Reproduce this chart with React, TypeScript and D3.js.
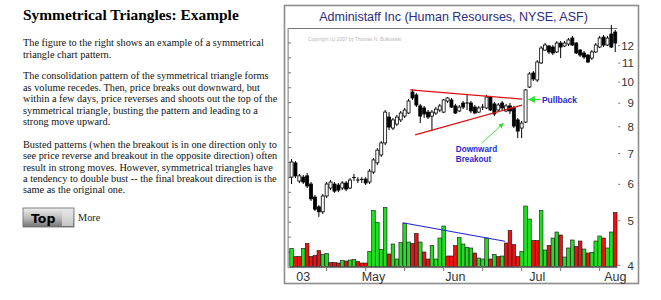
import React from 'react'
import * as d3 from 'd3'

// daily prices, one entry per trading day (Mar 28 - Aug 1 2003)
const opens = [6.22, 6.68, 6.10, 6.22, 6.26, 6.01, 5.63, 5.36, 5.23, 5.66,
    5.89, 6.01, 5.98, 5.89, 6.04, 5.89, 6.19, 6.13, 6.13, 6.16,
    6.07, 6.38, 6.68, 6.95, 7.38, 8.40, 7.95, 8.11, 8.28, 8.44,
    8.57, 9.52, 9.38, 8.88, 8.79, 8.61, 8.44, 8.57, 8.70, 8.61,
    9.10, 9.15, 8.88, 8.66, 9.01, 9.01, 9.01, 8.83, 8.61, 8.79,
    8.79, 9.28, 8.97, 8.70, 9.01, 8.66, 8.88, 8.79, 8.28, 7.95,
    8.19, 9.76, 10.47, 10.11, 11.01, 11.74, 11.98, 11.92, 11.63, 12.16,
    11.98, 12.10, 12.47, 12.16, 11.74, 11.57, 11.45, 11.28, 11.63, 11.92,
    12.53, 12.04, 12.72, 12.85]
const highs = [6.81, 6.74, 6.32, 6.29, 6.35, 6.07, 5.69, 5.41, 5.72, 6.07,
    6.13, 6.07, 6.04, 6.10, 6.10, 6.19, 6.32, 6.22, 6.22, 6.22,
    6.48, 6.84, 7.19, 7.45, 8.70, 8.61, 8.36, 8.49, 8.66, 8.79,
    9.19, 9.66, 9.47, 8.97, 8.88, 8.70, 8.70, 8.83, 8.97, 9.19,
    9.28, 9.24, 8.97, 8.92, 9.10, 9.38, 9.10, 8.92, 8.88, 8.97,
    9.38, 9.33, 9.06, 9.01, 9.10, 8.97, 9.01, 8.88, 8.36, 8.24,
    9.66, 10.52, 10.57, 11.17, 11.98, 12.16, 12.04, 12.04, 12.28, 12.28,
    12.28, 12.47, 12.60, 12.22, 11.80, 11.69, 11.51, 11.74, 12.16, 12.60,
    12.66, 12.60, 13.31, 12.98]
const lows = [6.01, 6.19, 6.04, 6.01, 5.89, 5.52, 5.25, 5.10, 5.17, 5.60,
    5.83, 5.75, 5.77, 5.83, 5.80, 5.86, 6.10, 6.04, 6.04, 5.98,
    6.01, 6.32, 6.61, 6.88, 7.30, 7.87, 7.87, 8.03, 8.19, 8.36,
    8.53, 9.15, 8.83, 8.15, 8.36, 8.32, 7.83, 8.49, 8.61, 8.57,
    9.01, 8.79, 8.53, 8.61, 8.74, 8.70, 8.57, 8.53, 8.57, 8.70,
    8.74, 8.66, 8.44, 8.66, 8.70, 8.61, 8.53, 7.95, 7.56, 7.56,
    8.15, 9.71, 10.06, 10.01, 10.95, 11.69, 11.51, 11.45, 11.57, 11.28,
    11.92, 11.98, 11.98, 11.51, 11.34, 11.23, 11.01, 11.17, 11.57, 11.86,
    11.92, 11.98, 11.86, 11.63]
const closes = [6.71, 6.26, 6.26, 6.07, 5.95, 5.58, 5.30, 5.23, 5.66, 6.01,
    6.07, 5.80, 5.83, 6.04, 5.86, 6.13, 6.21, 6.12, 6.15, 6.04,
    6.41, 6.78, 7.12, 7.38, 8.61, 7.99, 8.28, 8.40, 8.57, 8.70,
    9.10, 9.24, 8.92, 8.44, 8.53, 8.40, 8.61, 8.74, 8.88, 9.15,
    9.24, 8.83, 8.57, 8.83, 8.83, 8.99, 8.66, 8.57, 8.79, 8.83,
    9.28, 8.70, 8.53, 8.92, 8.79, 8.88, 8.66, 8.03, 7.83, 8.15,
    9.62, 10.42, 10.16, 11.06, 11.86, 12.04, 11.63, 11.57, 12.16, 11.92,
    12.16, 12.35, 12.04, 11.57, 11.45, 11.34, 11.06, 11.63, 12.04, 12.47,
    12.04, 12.47, 11.92, 12.16]

// volume in thousands of shares, 1 = green bar, 0 = red bar
const volumes = [180, 100, 100, 180, 230, 100, 110, 160, 120, 130,
    40, 40, 35, 60, 55, 65, 70, 50, 35, 35,
    150, 560, 440, 170, 590, 125, 225, 75, 240, 430,
    245, 230, 330, 245, 145, 75, 210, 75, 285, 405,
    105, 105, 210, 290, 225, 190, 185, 135, 85, 75,
    285, 75, 120, 100, 105, 235, 360, 220, 100, 150,
    605, 475, 260, 260, 560, 165, 210, 285, 345, 315,
    95, 185, 265, 200, 255, 175, 135, 140, 255, 305,
    285, 185, 345, 540]
const volumeUp = [1, 0, 0, 1, 0, 0, 0, 0, 1, 1,
    0, 0, 0, 1, 0, 1, 1, 0, 0, 0,
    1, 1, 1, 1, 1, 0, 1, 1, 1, 1,
    1, 0, 0, 1, 0, 0, 1, 1, 1, 1,
    0, 0, 0, 1, 1, 1, 1, 0, 1, 1,
    1, 0, 1, 0, 1, 0, 0, 0, 0, 1,
    1, 1, 0, 0, 1, 1, 0, 1, 1, 0,
    1, 1, 1, 0, 0, 1, 0, 1, 1, 1,
    0, 1, 1, 0]

const priceTicks = [4, 5, 6, 7, 8, 9, 10, 11, 12]
const monthLabels = ['03', 'May', 'Jun', 'Jul', 'Aug']
const monthBars = [3, 21, 42, 63, 83]
const dayTicks = [9, 19, 29, 39, 49, 59, 69, 79]

// trend lines: [bar, price] and [bar, volume]
const upperLine = [[30.4, 9.62], [59.1, 9.19]]
const lowerLine = [[31.7, 7.68], [59.1, 8.92]]
const volumeLine = [[28.5, 437], [54.7, 253]]

const introLines = [
    'The figure to the right shows an example of a symmetrical',
    'triangle chart pattern.',
]
const consolidationLines = [
    'The consolidation pattern of the symmetrical triangle forms',
    'as volume recedes. Then, price breaks out downward, but',
    'within a few days, price reverses and shoots out the top of the',
    'symmetrical triangle, busting the pattern and leading to a',
    'strong move upward.',
]
const bustedLines = [
    'Busted patterns (when the breakout is in one direction only to',
    'see price reverse and breakout in the opposite direction) often',
    'result in strong moves. However, symmetrical triangles have',
    'a tendency to double bust -- the final breakout direction is the',
    'same as the original one.',
]

const SERIF = "'Liberation Serif', 'Times New Roman', serif"
const SANS = "'Liberation Sans', Arial, sans-serif"
const GREEN = '#22dd22'
const RED = '#ee1111'

const plot = { left: 289.6, right: 617.2, top: 28, bottom: 267 }

const Paragraph = ({ lines, top, step }) => (
    <g>
        {lines.map((t, i) => (
            <text key={i} x={23} y={top + i * step} fontFamily={SERIF} fontSize={10.3} fill='#111'>
                {t}
            </text>
        ))}
    </g>
)

const App = () => {
    const n = closes.length
    const x = d3.scaleLinear().domain([-0.5, n - 0.5]).range([plot.left, plot.right])
    const y = d3.scaleLog().domain([3.969, 13.11]).range([plot.bottom, plot.top])
    const v = d3.scaleLinear().domain([0, 600]).range([plot.bottom - 0.5, plot.bottom - 60.5])
    const leftTick = d3.scaleLinear().domain([0, 16]).range([plot.bottom, plot.top])
    const line = d3.line()

    return (
        <svg width={661} height={300} style={{ position: 'absolute', left: 0, top: 0, background: '#fff' }}>
            <defs>
                <linearGradient id='btn' x1='0' y1='0' x2='0' y2='1'>
                    <stop offset='0' stopColor='#eeeeee' />
                    <stop offset='0.5' stopColor='#bdbdbd' />
                    <stop offset='1' stopColor='#737373' />
                </linearGradient>
                <marker id='head' viewBox='0 0 10 10' refX='9' refY='5' markerWidth='6' markerHeight='6' orient='auto'>
                    <path d='M0,0 L10,5 L0,10 z' fill='#33dd33' />
                </marker>
            </defs>

            {/* left text column */}
            <text x={23} y={20} fontFamily={SERIF} fontSize={15.4} fontWeight='bold' fill='#000'>
                Symmetrical Triangles: Example
            </text>
            <Paragraph lines={introLines} top={46} step={11.5} />
            <Paragraph lines={consolidationLines} top={79.4} step={11.4} />
            <Paragraph lines={bustedLines} top={148.4} step={11.05} />
            <rect x={23} y={208} width={51} height={19} fill='url(#btn)' stroke='#666' strokeWidth={0.8} />
            <rect x={62} y={209} width={11} height={17} fill='#e4e4e4' opacity={0.7} />
            <text x={31} y={222.5} fontFamily="'DejaVu Sans', Verdana, sans-serif" fontSize={12.5} fontWeight='bold' fill='#000'>
                Top
            </text>
            <text x={78} y={221} fontFamily={SERIF} fontSize={10.3} fill='#222'>More</text>

            {/* chart frame */}
            <rect x={284.5} y={5.5} width={354} height={278} fill='#fff' stroke='#8c8c8c' strokeWidth={1.6} />
            <text x={453.5} y={21} textAnchor='middle' fontFamily={SANS} fontSize={12.5} fill='#2b2b80'>
                Administaff Inc (Human Resourses, NYSE, ASF)
            </text>
            <text x={308} y={41} fontFamily={SANS} fontSize={4.8} fill='#b8b8b8'>
                Copyright (c) 2007 by Thomas N. Bulkowski
            </text>

            {/* axes */}
            <line x1={plot.left - 1} x2={plot.right} y1={plot.top + 0.5} y2={plot.top + 0.5} stroke='#777' />
            <line x1={plot.left - 1} x2={plot.right} y1={plot.bottom + 0.5} y2={plot.bottom + 0.5} stroke='#777' />
            <line x1={plot.left - 1.5} x2={plot.left - 1.5} y1={plot.top} y2={plot.bottom + 1} stroke='#777' />
            {d3.range(1, 16).map(k => (
                <line key={k} x1={plot.left - 1.5} x2={plot.left + 1.5} y1={leftTick(k)} y2={leftTick(k)} stroke='#777' />
            ))}
            {dayTicks.map(d => (
                <line key={d} x1={x(d)} x2={x(d)} y1={plot.bottom + 1} y2={plot.bottom + 4} stroke='#777' />
            ))}
            {monthLabels.map((m, i) => (
                <text key={m} x={x(monthBars[i])} y={280.5} textAnchor='middle' fontFamily={SANS} fontSize={12.5} fill='#333'>
                    {m}
                </text>
            ))}
            {priceTicks.map(p => (
                <g key={p}>
                    <line x1={plot.right + 1} x2={plot.right + 3} y1={y(p)} y2={y(p)} stroke='#777' />
                    <text x={634} y={y(p)} dy='0.36em' textAnchor='end' fontFamily={SANS} fontSize={11.5} fill='#333'>
                        {p}
                    </text>
                </g>
            ))}

            {/* volume */}
            {volumes.map((d, i) => (
                <rect
                    key={i}
                    x={x(i) - 1.8}
                    y={v(d)}
                    width={3.6}
                    height={v(0) - v(d)}
                    fill={volumeUp[i] ? GREEN : RED}
                    stroke='#111'
                    strokeWidth={0.6}
                />
            ))}
            <path d={line(volumeLine.map(([b, q]) => [x(b), v(q)]))} stroke='#2222dd' strokeWidth={1.1} fill='none' />

            {/* candles */}
            {closes.map((c, i) => {
                const o = opens[i]
                const top = y(Math.max(o, c))
                const h = Math.abs(y(o) - y(c))
                return (
                    <g key={i}>
                        <line x1={x(i)} x2={x(i)} y1={y(highs[i])} y2={y(lows[i])} stroke='#000' strokeWidth={1} />
                        {h < 1.2
                            ? <line x1={x(i) - 1.8} x2={x(i) + 1.8} y1={top} y2={top} stroke='#000' strokeWidth={1} />
                            : <rect x={x(i) - 1.5} y={top} width={3} height={h} fill={c >= o ? '#fff' : '#000'} stroke='#000' strokeWidth={0.8} />}
                    </g>
                )
            })}

            {/* triangle */}
            <path d={line(upperLine.map(([b, p]) => [x(b), y(p)]))} stroke='#e01010' strokeWidth={1.3} fill='none' />
            <path d={line(lowerLine.map(([b, p]) => [x(b), y(p)]))} stroke='#e01010' strokeWidth={1.3} fill='none' />

            {/* annotations */}
            <line x1={x(63.8)} y1={y(9.17)} x2={x(60.8)} y2={y(9.17)} stroke='#33dd33' strokeWidth={1.2} markerEnd='url(#head)' />
            <text x={x(64.2)} y={y(9.17)} dy='0.36em' fontFamily={SANS} fontSize={8.5} fontWeight='bold' fill='#2a2ad0'>
                Pullback
            </text>
            <line x1={x(48.8)} y1={y(7.37)} x2={x(54.3)} y2={y(8.14)} stroke='#33dd33' strokeWidth={0.9} markerEnd='url(#head)' />
            <text x={x(42.1)} y={y(7.14)} dy='0.36em' fontFamily={SANS} fontSize={8.2} fontWeight='bold' fill='#2a2ad0'>
                Downward
            </text>
            <text x={x(42.1)} y={y(6.81)} dy='0.36em' fontFamily={SANS} fontSize={8.2} fontWeight='bold' fill='#2a2ad0'>
                Breakout
            </text>
        </svg>
    )
}

export default App
